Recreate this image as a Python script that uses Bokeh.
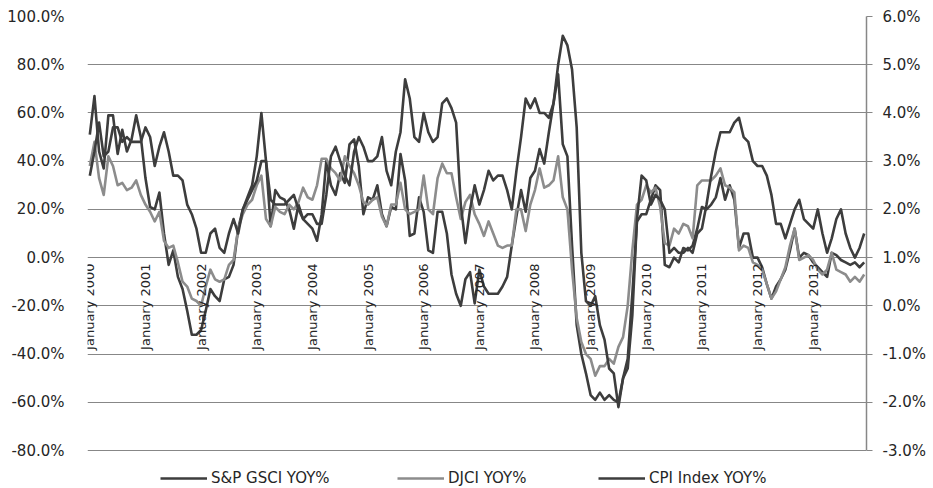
import numpy as np
from bokeh.plotting import figure
from bokeh.models import Range1d, LinearAxis, FixedTicker, PrintfTickFormatter, Legend, LegendItem
from bokeh.core.properties import value
from bokeh.embed import file_html
from bokeh.resources import INLINE

# Monthly year-over-year changes, January 2000 to December 2013
years = list(range(2000, 2014))
months = [f"{y}-{m:02d}" for y in years for m in range(1, 13)]

# S&P GSCI YOY% (left axis, %)
gsci = [
    51, 67, 44, 37, 59, 59, 43, 53, 44, 49, 59, 50,
    33, 21, 20, 27, 10, -3, 3, -8, -13, -22, -32, -32,
    -30, -22, -13, -16, -18, -9, -8, -3, 12, 20, 25, 30,
    42, 60, 40, 13, 28, 25, 24, 20, 12, 22, 16, 14,
    12, 7, 18, 40, 30, 26, 35, 31, 47, 49, 38, 18,
    25, 24, 30, 18, 13, 21, 20, 43, 32, 9, 10, 25,
    19, 3, 2, 19, 19, 10, -7, -15, -20, -9, -6, -19,
    -5, -12, -15, -15, -15, -12, -8, 5, 17, 28, 19, 33,
    36, 45, 39, 52, 64, 76, 47, 42, 5, -28, -40, -48,
    -57, -59, -56, -59, -57, -59, -60, -50, -42, -15, 15, 18,
    18, 24, 30, 28, -3, -4, 0, -2, 4, 3, 5, 12,
    21, 20, 22, 25, 33, 24, 30, 24, 4, 10, 10, 0,
    0, -4, -11, -17, -12, -9, -5, 3, 12, 0, 2, 1,
    -2, -4, -6, -8, 2, 1, -1, -2, -3, -2, -4, -2,
]

# DJCI YOY% (left axis, %)
djci = [
    38, 48, 33, 26, 42, 38, 30, 31, 28, 29, 32, 26,
    22, 19, 15, 19, 7, 4, 5, -2, -10, -12, -17, -18,
    -20, -12, -5, -9, -10, -9, -3, -1, 12, 18, 22, 24,
    30, 34, 16, 13, 21, 19, 18, 22, 20, 23, 29, 25,
    24, 30, 41, 41, 37, 35, 32, 42, 38, 35, 30, 23,
    22, 24, 25, 17, 13, 22, 22, 31, 20, 18, 19, 20,
    34, 20, 18, 33, 39, 35, 35, 25, 16, 23, 26, 18,
    14, 9, 15, 10, 5, 4, 5, 5, 20, 20, 11, 22,
    28, 37, 29, 30, 32, 42, 25, 20, -5, -25, -35, -40,
    -42, -49, -45, -45, -42, -44, -37, -33, -20, 3, 22, 24,
    30, 27, 29, 21, 6, 5, 12, 10, 14, 13, 8, 30,
    32, 32, 32, 34, 37, 30, 29, 27, 3, 5, 4, -2,
    -3, -5, -11, -17, -14, -9, -4, 5, 12, -1, 0, 1,
    -1, -5, -7, -5, 2, -5, -6, -7, -10, -8, -10, -7,
]

# CPI Index YOY% (right axis, %)
cpi = [
    2.7, 3.2, 3.8, 3.1, 3.2, 3.7, 3.7, 3.4, 3.5, 3.4, 3.4, 3.4,
    3.7, 3.5, 2.9, 3.3, 3.6, 3.2, 2.7, 2.7, 2.6, 2.1, 1.9, 1.6,
    1.1, 1.1, 1.5, 1.6, 1.2, 1.1, 1.5, 1.8, 1.5, 2.0, 2.2, 2.4,
    2.6, 3.0, 3.0, 2.2, 2.1, 2.1, 2.1, 2.2, 2.3, 2.0, 1.8, 1.9,
    1.9, 1.7, 1.7, 2.3, 3.1, 3.3, 3.0, 2.7, 2.5, 3.2, 3.5, 3.3,
    3.0, 3.0, 3.1, 3.5, 2.8, 2.5, 3.2, 3.6, 4.7, 4.3, 3.5, 3.4,
    4.0, 3.6, 3.4, 3.5, 4.2, 4.3, 4.1, 3.8, 2.1, 1.3, 2.0, 2.5,
    2.1, 2.4, 2.8, 2.6, 2.7, 2.7, 2.4, 2.0, 2.8, 3.5, 4.3, 4.1,
    4.3, 4.0, 4.0, 3.9, 4.2, 5.0, 5.6, 5.4, 4.9, 3.7, 1.1, 0.1,
    0.0, 0.2, -0.4, -0.7, -1.3, -1.4, -2.1, -1.5, -1.3, -0.2, 1.8, 2.7,
    2.6, 2.1, 2.3, 2.2, 2.0, 1.1, 1.2, 1.1, 1.1, 1.2, 1.1, 1.5,
    1.6, 2.1, 2.7, 3.2, 3.6, 3.6, 3.6, 3.8, 3.9, 3.5, 3.4, 3.0,
    2.9, 2.9, 2.7, 2.3, 1.7, 1.7, 1.4, 1.7, 2.0, 2.2, 1.8, 1.7,
    1.6, 2.0, 1.5, 1.1, 1.4, 1.8, 2.0, 1.5, 1.2, 1.0, 1.2, 1.5,
]

series_names = ["S&P GSCI YOY%", "DJCI YOY%", "CPI Index YOY%"]
left_ticks = [-80, -60, -40, -20, 0, 20, 40, 60, 80, 100]
right_ticks = [-3, -2, -1, 0, 1, 2, 3, 4, 5, 6]
year_labels = [f"January {y}" for y in years]

FONT = "DejaVu Sans"
DARK = "#3d3d3d"
GREY = "#8c8c8c"
GRID = "#878787"
TEXT = "#262626"

idx = list(range(len(months)))

# the frame reaches the bottom edge so the legend row can sit beneath the -80% line;
# the y ranges are stretched by the same 38px (2.411 px per percentage point)
LEFT_LO, LEFT_HI = -95.76, 100
p = figure(
    width=933, height=488, output_backend="svg", toolbar_location=None,
    x_range=Range1d(-0.5, len(months) - 0.5), y_range=Range1d(LEFT_LO, LEFT_HI),
    x_axis_location=None, y_axis_location="left",
    min_border_left=87, min_border_right=67, min_border_top=16, min_border_bottom=0,
)
p.outline_line_color = None
p.background_fill_color = "white"
p.border_fill_color = "white"
p.xgrid.visible = False
p.ygrid.ticker = FixedTicker(ticks=left_ticks)
p.ygrid.grid_line_color = GRID
p.ygrid.grid_line_width = 1.2

# left axis: labels only
p.yaxis.ticker = FixedTicker(ticks=left_ticks)
p.yaxis.formatter = PrintfTickFormatter(format="%.1f%%")
p.yaxis.axis_line_color = None
p.yaxis.major_tick_line_color = None
p.yaxis.minor_tick_line_color = None
p.yaxis.major_label_standoff = 17
p.yaxis.major_label_text_font = FONT
p.yaxis.major_label_text_font_size = "15px"
p.yaxis.major_label_text_color = TEXT

# right axis for CPI (right = left / 20 + 1)
p.extra_y_ranges = {"cpi": Range1d(LEFT_LO / 20 + 1, LEFT_HI / 20 + 1)}
rax = LinearAxis(y_range_name="cpi", ticker=FixedTicker(ticks=right_ticks),
                 formatter=PrintfTickFormatter(format="%.1f%%"), bounds=(-3, 6))
rax.axis_line_color = GRID
rax.axis_line_width = 1.5
rax.major_tick_line_color = GRID
rax.major_tick_line_width = 1.2
rax.major_tick_in = 0
rax.major_tick_out = 6
rax.minor_tick_line_color = None
rax.major_label_standoff = 10
rax.major_label_text_font = FONT
rax.major_label_text_font_size = "15px"
rax.major_label_text_color = TEXT
p.add_layout(rax, "right")

# series
r1 = p.line(idx, gsci, line_color=DARK, line_width=2.6, line_join="round")
r2 = p.line(idx, djci, line_color=GREY, line_width=2.6, line_join="round")
r3 = p.line(idx, cpi, y_range_name="cpi", line_color=DARK, line_width=2.6, line_join="round")

# vertical January labels hanging from the zero line
tick_idx = [12 * k for k in range(len(years))]
p.text(x=tick_idx, y=[-2.4] * len(tick_idx), text=year_labels, angle=np.pi / 2,
       text_align="right", text_baseline="middle",
       text_font=value(FONT), text_font_size="13px", text_color=TEXT)

# legend entries along the bottom
for name, rend, vx in zip(series_names, [r1, r2, r3], [73, 310, 511]):
    leg = Legend(items=[LegendItem(label=name, renderers=[rend])], location=(vx, 1),
                 orientation="horizontal", border_line_color=None, background_fill_alpha=0,
                 padding=0, margin=0, spacing=0, glyph_width=47, glyph_height=14,
                 label_height=14, label_standoff=4, label_text_font=FONT,
                 label_text_font_size="15px", label_text_color=TEXT)
    p.add_layout(leg)

open("out.html", "w").write(file_html(p, INLINE))
